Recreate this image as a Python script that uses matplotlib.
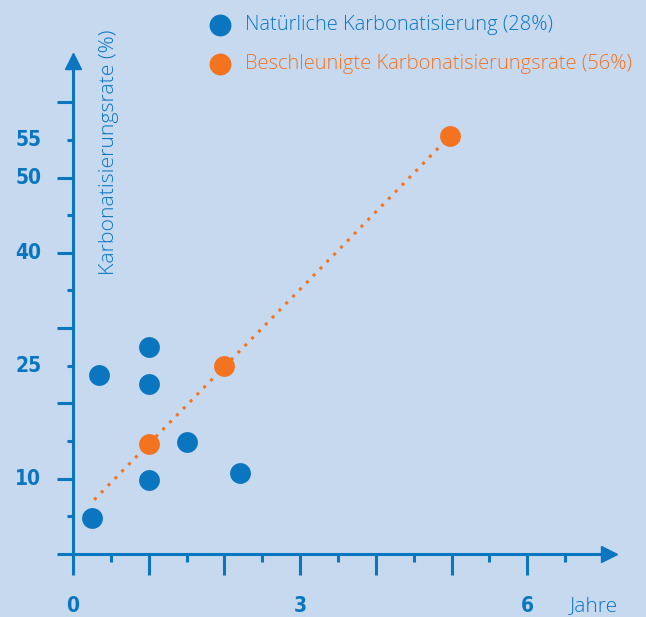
import matplotlib.pyplot as plt
from matplotlib.ticker import FixedLocator

# data
nat_x = [0.25, 0.35, 1.0, 1.0, 1.5, 1.0, 2.2]
nat_y = [4.8, 23.8, 27.5, 22.6, 14.9, 9.8, 10.7]
acc_x = [1.0, 2.0, 4.98]
acc_y = [14.6, 25.0, 55.5]
trend_x = [0.28, 4.98]
trend_y = [7.2, 55.5]

ytick_labels = [10, 25, 40, 50, 55]
xtick_labels = [0, 3, 6]

blue = '#0a76c0'
orange = '#f37321'
bg = '#c6d9ef'

fig = plt.figure(figsize=(6.46, 6.17), dpi=100, facecolor=bg)
ax = fig.add_axes([0, 0, 1, 1], facecolor=bg)

# pixel mapping: x=0 at px 73, 75.7 px/unit ; y=0 at px 554, 7.53 px/unit
ax.set_xlim(-73 / 75.7, (646 - 73) / 75.7)
ax.set_ylim(-(617 - 554) / 7.53, 554 / 7.53)

for s in ['top', 'right']:
    ax.spines[s].set_visible(False)
ax.spines['left'].set_position(('data', 0))
ax.spines['bottom'].set_position(('data', 0))
ax.spines['left'].set_bounds(0, 65)
ax.spines['bottom'].set_bounds(0, 7.0)
for s in ['left', 'bottom']:
    ax.spines[s].set_color(blue)
    ax.spines[s].set_linewidth(2.2)
    ax.spines[s].set_capstyle('butt')

ax.xaxis.set_major_locator(FixedLocator([0, 1, 2, 3, 4, 5, 6]))
ax.xaxis.set_minor_locator(FixedLocator([0.5, 1.5, 2.5, 3.5, 4.5, 5.5, 6.5]))
ax.yaxis.set_major_locator(FixedLocator([0, 10, 20, 30, 40, 50, 60]))
ax.yaxis.set_minor_locator(FixedLocator([5, 15, 25, 35, 45, 55]))
ax.tick_params(axis='x', which='major', direction='out', length=15, width=2.2, color=blue, labelbottom=False)
ax.tick_params(axis='x', which='minor', direction='out', length=6, width=2.2, color=blue)
ax.tick_params(axis='y', which='major', direction='out', length=11.5, width=2.2, color=blue, labelleft=False)
ax.tick_params(axis='y', which='minor', direction='out', length=4, width=2.2, color=blue)

# arrow heads
ax.plot([0], [65.5], marker='^', markersize=11, color=blue, clip_on=False)
ax.plot([7.08], [0], marker='>', markersize=11, color=blue, clip_on=False)

# tick labels
lab_font = dict(family='DejaVu Sans', stretch='condensed', fontsize=15, fontweight='bold', color=blue)
for v in ytick_labels:
    ax.text(-0.59, v, str(v), ha='center', va='center', **lab_font)
for v in xtick_labels:
    ax.text(v, -6.9, str(v), ha='center', va='center', **lab_font)

txt_font = dict(family=['Open Sans', 'DejaVu Sans'], fontweight='light', color=blue)
ax.text(6.88, -6.85, 'Jahre', ha='center', va='center', fontsize=15, **txt_font)
ax.text(0.47, 53.4, 'Karbonatisierungsrate (%)', rotation=90, ha='center', va='center',
        fontsize=15.3, **txt_font)

# data
ax.plot(trend_x, trend_y, linestyle=(0, (1, 2.2)), linewidth=2.2, color=orange, zorder=2)
ax.scatter(nat_x, nat_y, s=225, color=blue, zorder=3, linewidths=0,
           label='Natürliche Karbonatisierung (28%)')
ax.scatter(acc_x, acc_y, s=225, color=orange, zorder=3, linewidths=0,
           label='Beschleunigte Karbonatisierungsrate (56%)')

leg = ax.legend(loc='upper left', bbox_to_anchor=(0.29, 1.005), frameon=False,
                labelcolor='markerfacecolor', handletextpad=0.55, labelspacing=0.95,
                handlelength=1.4, markerscale=1.05,
                prop={'family': ['Open Sans', 'DejaVu Sans'], 'weight': 'light', 'size': 14.5})

fig.savefig('out.png', dpi=100, facecolor=bg)
